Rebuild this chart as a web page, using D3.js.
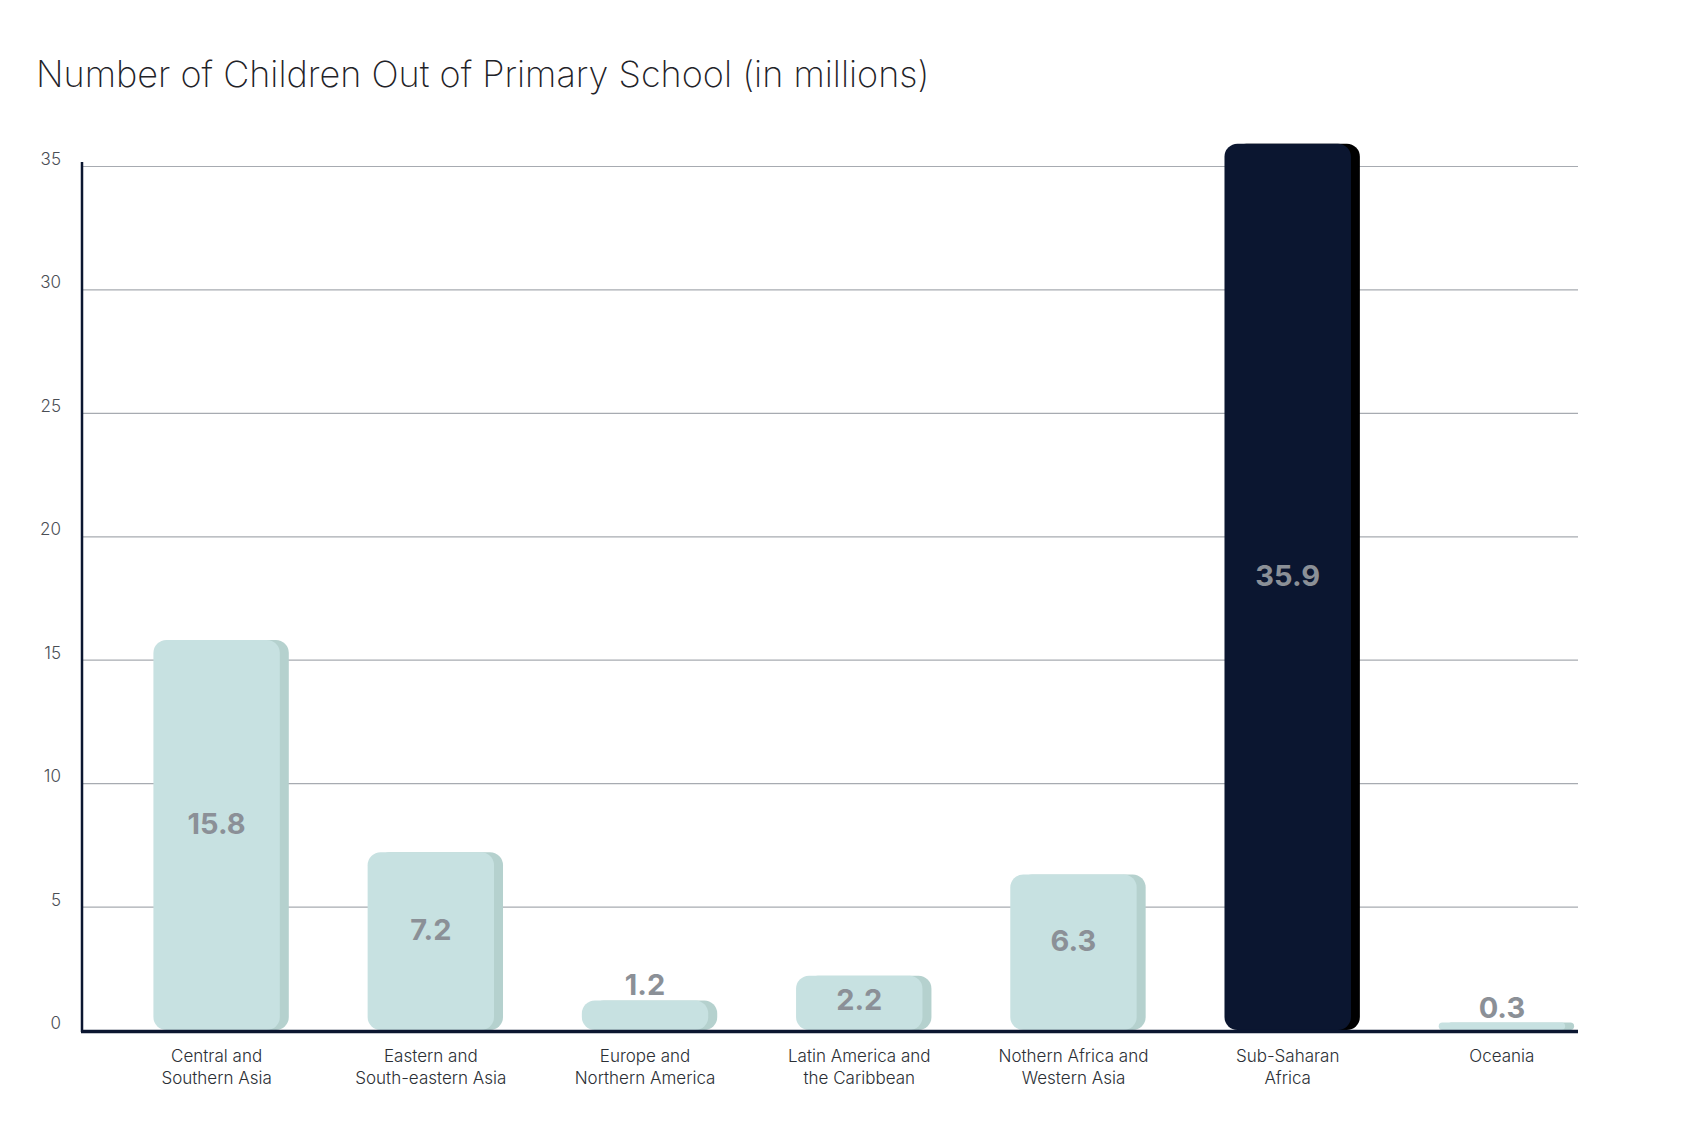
<!DOCTYPE html>
<html>
<head>
<meta charset="utf-8">
<script src="https://cdn.jsdelivr.net/npm/d3@7"></script>
<style>
  body { margin: 0; background: #fff; }
  svg { display: block; font-family: Inter, "Noto Sans", sans-serif; }
</style>
</head>
<body>
<div id="chart-area"></div>
<script>
// data
const categories = [
    "Central and\nSouthern Asia",
    "Eastern and\nSouth-eastern Asia",
    "Europe and\nNorthern America",
    "Latin America and\nthe Caribbean",
    "Nothern Africa and\nWestern Asia",
    "Sub-Saharan\nAfrica",
    "Oceania"
];
const values = [15.8, 7.2, 1.2, 2.2, 6.3, 35.9, 0.3];
const highlight = ["Sub-Saharan\nAfrica"];
const yTicks = [0, 5, 10, 15, 20, 25, 30, 35];

const width = 1688, height = 1140;

const svg = d3.select("#chart-area")
    .append("svg")
    .attr("width", width)
    .attr("height", height);

svg.append("text")
    .attr("x", 36)
    .attr("y", 87)
    .attr("font-size", 36)
    .attr("font-weight", 200)
    .attr("fill", "#1f2328")
    .text("Number of Children Out of Primary School (in millions)");

const x = d3.scaleBand()
    .domain(categories)
    .range([109.5, 1609])
    .paddingInner(0.41)
    .paddingOuter(0.205);

const y = d3.scaleLinear()
    .domain([0, 35])
    .range([1030, 166]);

const axisLeft = 82, axisRight = 1578;

// gridlines
svg.append("g")
    .selectAll("line")
    .data(yTicks.filter(d => d > 0))
    .enter().append("line")
    .attr("x1", axisLeft)
    .attr("x2", axisRight)
    .attr("y1", d => y(d) + 0.5)
    .attr("y2", d => y(d) + 0.5)
    .attr("stroke", "#a7abb1")
    .attr("stroke-width", 1.2);

// y tick labels
svg.append("g")
    .selectAll("text")
    .data(yTicks)
    .enter().append("text")
    .attr("x", 61)
    .attr("y", d => y(d) - 1)
    .attr("text-anchor", "end")
    .attr("font-size", 17)
    .attr("font-weight", 300)
    .attr("fill", "#4a4e55")
    .text(d => d);

// y axis line
svg.append("line")
    .attr("x1", axisLeft).attr("x2", axisLeft)
    .attr("y1", y(35) - 4).attr("y2", y(0) + 2)
    .attr("stroke", "#0b1630")
    .attr("stroke-width", 2.5);

const bw = x.bandwidth();
const rx = 13;

const bars = svg.append("g")
    .selectAll("g")
    .data(categories)
    .enter().append("g");

// shadow behind each bar
bars.append("rect")
    .attr("x", d => x(d) + 9)
    .attr("y", (d, i) => y(values[i]))
    .attr("width", bw)
    .attr("height", (d, i) => y(0) - y(values[i]))
    .attr("rx", (d, i) => Math.min(rx, (y(0) - y(values[i])) / 2))
    .attr("fill", d => highlight.includes(d) ? "#000000" : "#b5d1ce");

bars.append("rect")
    .attr("x", d => x(d))
    .attr("y", (d, i) => y(values[i]))
    .attr("width", bw)
    .attr("height", (d, i) => y(0) - y(values[i]))
    .attr("rx", (d, i) => Math.min(rx, (y(0) - y(values[i])) / 2))
    .attr("fill", d => highlight.includes(d) ? "#0b1630" : "#c7e1e1");

// value labels: inside the bar (a bit above centre) when there is room, otherwise above
bars.append("text")
    .attr("x", d => x(d) + bw / 2)
    .attr("y", (d, i) => {
        const h = y(0) - y(values[i]);
        if (h <= 40) return y(values[i]) - 5;
        return (y(values[i]) + y(0)) / 2 - (h > 70 ? 9 : 1);
    })
    .attr("text-anchor", "middle")
    .attr("dominant-baseline", (d, i) => (y(0) - y(values[i])) > 40 ? "middle" : "auto")
    .attr("font-size", 29)
    .attr("font-weight", 700)
    .attr("fill", "#8b9097")
    .text((d, i) => values[i]);

// x axis baseline
svg.append("line")
    .attr("x1", axisLeft - 1).attr("x2", axisRight)
    .attr("y1", y(0) + 1.5).attr("y2", y(0) + 1.5)
    .attr("stroke", "#0b1630")
    .attr("stroke-width", 3.5);

// category labels
const labels = svg.append("g")
    .selectAll("text")
    .data(categories)
    .enter().append("text")
    .attr("text-anchor", "middle")
    .attr("font-size", 17)
    .attr("font-weight", 300)
    .attr("fill", "#2b2f35");

labels.selectAll("tspan")
    .data(d => d.split("\n").map(line => ({ line: line, c: d })))
    .enter().append("tspan")
    .attr("x", d => x(d.c) + bw / 2)
    .attr("y", (d, i) => 1062 + i * 21.5)
    .text(d => d.line);
</script>
</body>
</html>
